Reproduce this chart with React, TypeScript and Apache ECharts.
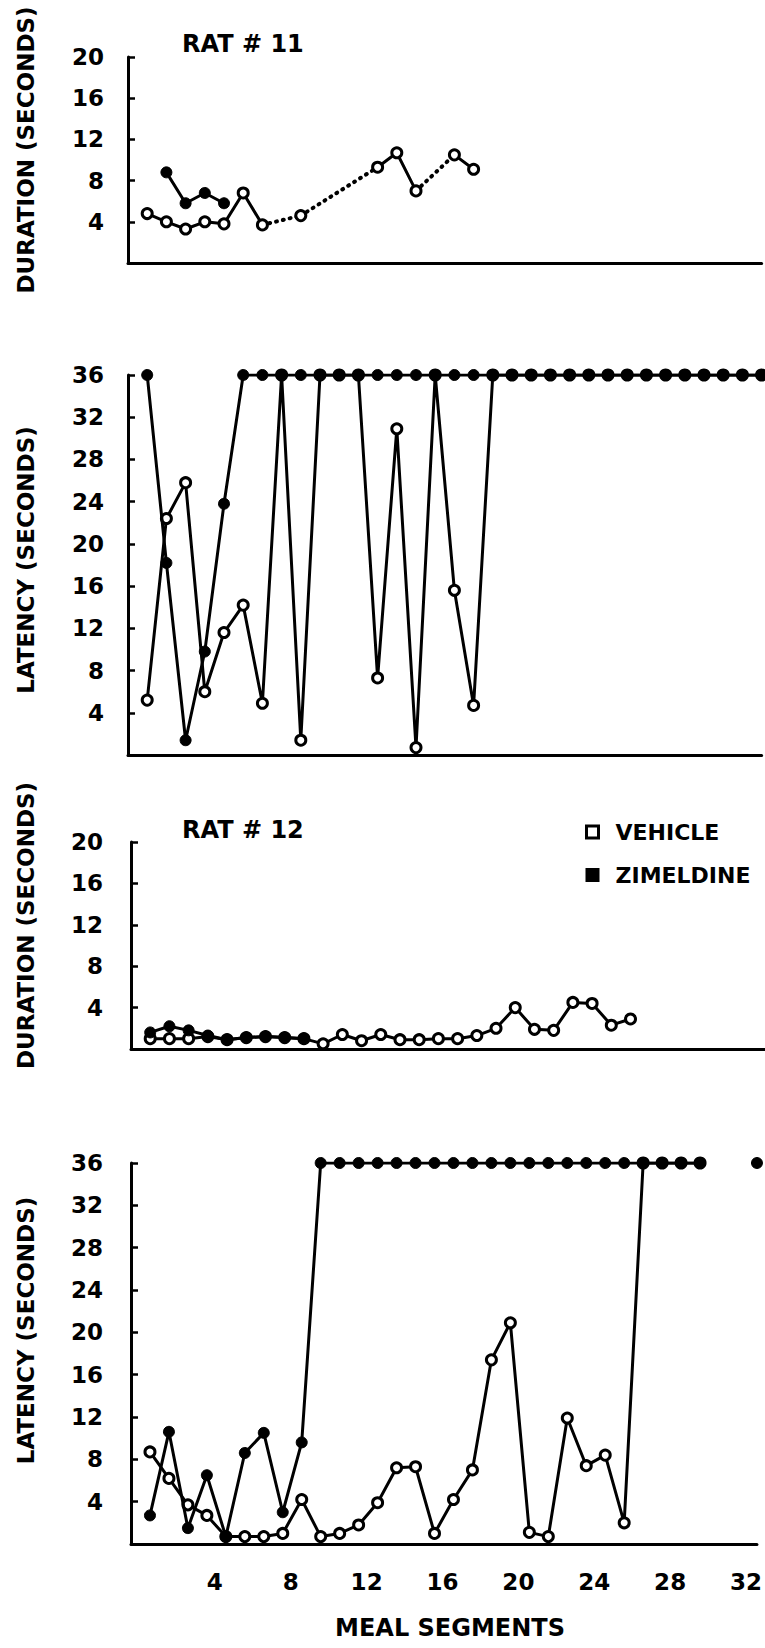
import React, { useEffect, useRef } from "react";
import * as echarts from "echarts";

// ---- data (value per meal segment; null = no value for that segment) ----
const RAT11_DUR_VEHICLE = [4.8, 4.0, 3.3, 4.0, 3.8, 6.8, 3.7, null, 4.6, null, null, null, 9.3, 10.7, 7.0, null, 10.5, 9.1];
const RAT11_DUR_ZIMELDINE = [null, 8.8, 5.8, 6.8, 5.8];
const RAT11_LAT_VEHICLE = [5.2, 22.4, 25.8, 6.0, 11.6, 14.2, 4.9, 36, 1.4, 36, 36, 36, 7.3, 30.9, 0.7, 36, 15.6, 4.7,
  36, 36, 36, 36, 36, 36, 36, 36, 36, 36, 36, 36, 36, 36, 36];
const RAT11_LAT_ZIMELDINE = [36, 18.2, 1.4, 9.8, 23.8,
  36, 36, 36, 36, 36, 36, 36, 36, 36, 36, 36, 36, 36, 36, 36, 36, 36, 36, 36, 36, 36, 36, 36, 36, 36, 36, 36, 36];
const RAT12_DUR_VEHICLE = [1.0, 1.0, 1.0, 1.2, 0.9, 1.1, 1.2, 1.1, 1.0, 0.5, 1.4, 0.8, 1.4, 0.9, 0.9, 1.0, 1.0, 1.3, 2.0, 4.0, 1.9, 1.8, 4.5, 4.4, 2.3, 2.9];
const RAT12_DUR_ZIMELDINE = [1.6, 2.2, 1.8, 1.3, 0.9, 1.1, 1.2, 1.1, 1.0];
const RAT12_LAT_VEHICLE = [8.7, 6.2, 3.7, 2.7, 0.7, 0.7, 0.7, 1.0, 4.2, 0.7, 1.0, 1.8, 3.9, 7.2, 7.3, 1.0, 4.2, 7.0, 17.4, 20.9,
  1.1, 0.7, 11.9, 7.4, 8.4, 2.0, 36, 36, 36, 36];
const RAT12_LAT_ZIMELDINE = [2.7, 10.6, 1.5, 6.5, 0.7, 8.6, 10.5, 3.0, 9.6,
  36, 36, 36, 36, 36, 36, 36, 36, 36, 36, 36, 36, 36, 36, 36, 36, 36, 36, 36, 36, 36, null, null, 36];

const DURATION_MAX = 20;
const LATENCY_MAX = 36;
const TICK_STEP = 4;
const SEGMENT_MAX = 33;
const TITLES = ["RAT # 11", "RAT # 12"];
const LEGEND = ["VEHICLE", "ZIMELDINE"];
const Y_NAMES = ["DURATION (SECONDS)", "LATENCY (SECONDS)"];
const X_NAME = "MEAL SEGMENTS";

const FONT = '"DejaVu Sans", sans-serif';

function toData(vals: (number | null)[]) {
  return vals.map((v, i) => [i + 1, v == null ? "-" : v]);
}

function bridges(vals: (number | null)[]) {
  const out: any[] = [];
  let prev = -1;
  for (let i = 0; i < vals.length; i++) {
    if (vals[i] == null) continue;
    if (prev >= 0 && i - prev > 1) {
      out.push([prev + 1, vals[prev]], [i + 1, vals[i]], [i + 1, "-"]);
    }
    prev = i;
  }
  return out;
}

const openItem = { color: "#fff", borderColor: "#000", borderWidth: 3 };
const fillItem = { color: "#000", borderColor: "#000", borderWidth: 1 };

function vehicleSeries(idx: number, vals: (number | null)[]) {
  return {
    type: "line", name: LEGEND[0], xAxisIndex: idx, yAxisIndex: idx,
    data: toData(vals), symbol: "circle", symbolSize: 10, z: 2,
    itemStyle: openItem, lineStyle: { color: "#000", width: 3 },
  };
}
function zimSeries(idx: number, vals: (number | null)[]) {
  return {
    type: "line", name: LEGEND[1], xAxisIndex: idx, yAxisIndex: idx,
    data: toData(vals), symbol: "circle", symbolSize: 11, z: 3,
    itemStyle: fillItem, lineStyle: { color: "#000", width: 3 },
  };
}

export default function App() {
  const ref = useRef<HTMLDivElement>(null);
  useEffect(() => {
    if (!ref.current) return;
    const chart = echarts.init(ref.current, null, { renderer: "svg" });
    const grids = [
      { left: 128, top: 57, width: SEGMENT_MAX * 19.2, height: 206 },
      { left: 128, top: 375, width: SEGMENT_MAX * 19.2, height: 380 },
      { left: 131, top: 842, width: SEGMENT_MAX * 19.3, height: 207 },
      { left: 131, top: 1163, width: SEGMENT_MAX * 19.3, height: 381 },
    ];
    const txt = { fontFamily: FONT, fontWeight: "bold" as const, color: "#000" };
    const xAxes = grids.map((_, i) => ({
      type: "value", gridIndex: i, min: 0, max: SEGMENT_MAX, interval: TICK_STEP,
      axisLine: { show: true, lineStyle: { color: "#000", width: 3 } },
      axisTick: { show: false }, splitLine: { show: false },
      axisLabel: i === 3 ? {
        show: true, ...txt, fontSize: 23, margin: 26, padding: [0, 0, 0, 16],
        formatter: (v: number) => (v > 0 && v < SEGMENT_MAX ? String(v) : ""),
      } : { show: false },
      name: i === 3 ? X_NAME : "",
      nameLocation: "middle", nameGap: 72,
      nameTextStyle: { ...txt, fontSize: 24, padding: [0, 0, 0, 12] },
    }));
    const namePad = [20, 10, 40, 46];
    const yAxes = grids.map((_, i) => ({
      type: "value", gridIndex: i, min: 0, max: i % 2 === 0 ? DURATION_MAX : LATENCY_MAX, interval: TICK_STEP,
      axisLine: { show: true, lineStyle: { color: "#000", width: 3 } },
      axisTick: { show: true, inside: true, length: 7, lineStyle: { color: "#000", width: 2.5 } },
      splitLine: { show: false },
      axisLabel: { ...txt, fontSize: 23, margin: i < 2 ? 24 : 28, formatter: (v: number) => (v === 0 ? "" : String(v)) },
      name: Y_NAMES[i % 2], nameLocation: "middle", nameRotate: 90, nameGap: i < 2 ? 91 : 94,
      nameTextStyle: { ...txt, fontSize: 23, padding: [0, 0, 0, namePad[i]] },
    }));
    const option = {
      animation: false,
      backgroundColor: "#fff",
      title: [
        { text: TITLES[0], left: 177, top: 27, textStyle: { ...txt, fontSize: 24 } },
        { text: TITLES[1], left: 177, top: 813, textStyle: { ...txt, fontSize: 24 } },
      ],
      legend: {
        orient: "vertical", left: 580, top: 815, itemWidth: 12, itemHeight: 12, itemGap: 19,
        selectedMode: false,
        textStyle: { ...txt, fontSize: 22, lineHeight: 24, padding: [0, 0, 0, 12] },
        data: [
          { name: LEGEND[0], icon: "rect", itemStyle: { color: "#fff", borderColor: "#000", borderWidth: 3 } },
          { name: LEGEND[1], icon: "rect", itemStyle: { color: "#000" } },
        ],
      },
      grid: grids,
      xAxis: xAxes,
      yAxis: yAxes,
      series: [
        vehicleSeries(0, RAT11_DUR_VEHICLE),
        {
          type: "line", name: "VEHICLE (bridged)", xAxisIndex: 0, yAxisIndex: 0,
          data: bridges(RAT11_DUR_VEHICLE), symbol: "none", z: 1,
          lineStyle: { color: "#000", width: 4, type: [1, 6], cap: "round" },
        },
        zimSeries(0, RAT11_DUR_ZIMELDINE),
        vehicleSeries(1, RAT11_LAT_VEHICLE),
        zimSeries(1, RAT11_LAT_ZIMELDINE),
        vehicleSeries(2, RAT12_DUR_VEHICLE),
        zimSeries(2, RAT12_DUR_ZIMELDINE),
        vehicleSeries(3, RAT12_LAT_VEHICLE),
        zimSeries(3, RAT12_LAT_ZIMELDINE),
      ],
    };
    chart.setOption(option as any);
    return () => chart.dispose();
  }, []);
  return (
    <div
      ref={ref}
      style={{ position: "absolute", left: 0, top: 0, width: 765, height: 1648, background: "#fff" }}
    />
  );
}
